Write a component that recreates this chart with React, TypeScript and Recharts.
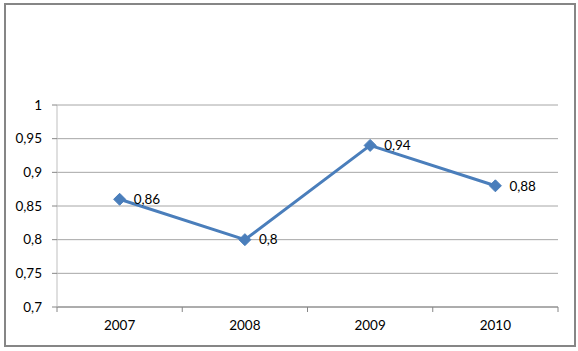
import { LineChart, Line, XAxis, YAxis, CartesianGrid, LabelList } from 'recharts';

// data
const years = ['2007', '2008', '2009', '2010'];
const values = [0.86, 0.8, 0.94, 0.88];
const yTicks = [0.7, 0.75, 0.8, 0.85, 0.9, 0.95, 1];

const data = years.map((year, i) => ({ year, value: values[i] }));

const FONT = 'Lato, "Open Sans", sans-serif';
const comma = (v: any) => String(v).replace('.', ',');

// x tick: label in the middle of the band, tick mark on the band edges
function YearTick(props: any) {
  const { x, y, payload, index, visibleTicksCount } = props;
  const half = payload.offset || 0;
  const axisY = y - 13;
  const isLast = index === visibleTicksCount - 1;
  return (
    <g>
      <line x1={x - half} x2={x - half} y1={axisY} y2={axisY + 5} stroke="#868686" />
      {isLast && <line x1={x + half} x2={x + half} y1={axisY} y2={axisY + 5} stroke="#868686" />}
      <text x={x} y={y} dy="0.71em" textAnchor="middle" fill="#000" fontSize={13.5} fontFamily={FONT}>
        {payload.value}
      </text>
    </g>
  );
}

function Diamond(props: any) {
  const { cx, cy } = props;
  if (cx == null || cy == null) return null;
  const r = 6;
  return (
    <polygon
      points={`${cx},${cy - r} ${cx + r},${cy} ${cx},${cy + r} ${cx - r},${cy}`}
      fill="#4a7ebb"
      stroke="#4a7ebb"
    />
  );
}

export default function App() {
  return (
    <div style={{ position: 'absolute', left: 0, top: 0, width: 578, height: 351, background: '#fff' }}>
      <div
        style={{
          position: 'absolute',
          left: 4,
          top: 3,
          width: 572,
          height: 344,
          boxSizing: 'border-box',
          border: '2px solid #868686',
        }}
      />
      <LineChart
        width={578}
        height={351}
        data={data}
        margin={{ top: 105, right: 20, bottom: 14, left: 0 }}
        style={{ position: 'absolute', left: 0, top: 0 }}
      >
        <CartesianGrid vertical={false} stroke="#a6a6a6" />
        <XAxis
          dataKey="year"
          scale="band"
          height={30}
          tickLine={false}
          tickSize={5}
          tickMargin={8}
          axisLine={{ stroke: '#868686' }}
          tick={<YearTick />}
          interval={0}
        />
        <YAxis
          width={57}
          domain={[0.7, 1]}
          ticks={yTicks}
          tickFormatter={comma}
          tickSize={5}
          tickMargin={10}
          axisLine={{ stroke: '#bfbfbf' }}
          tickLine={{ stroke: '#868686' }}
          tick={{ fill: '#000', fontSize: 13.5, fontFamily: FONT }}
          allowDataOverflow
        />
        <Line
          type="linear"
          dataKey="value"
          stroke="#4a7ebb"
          strokeWidth={3}
          dot={<Diamond />}
          activeDot={false}
          isAnimationActive={false}
        >
          <LabelList
            dataKey="value"
            position="right"
            offset={14}
            formatter={comma}
            fill="#000"
            fontSize={13.5}
            fontFamily={FONT}
          />
        </Line>
      </LineChart>
    </div>
  );
}
